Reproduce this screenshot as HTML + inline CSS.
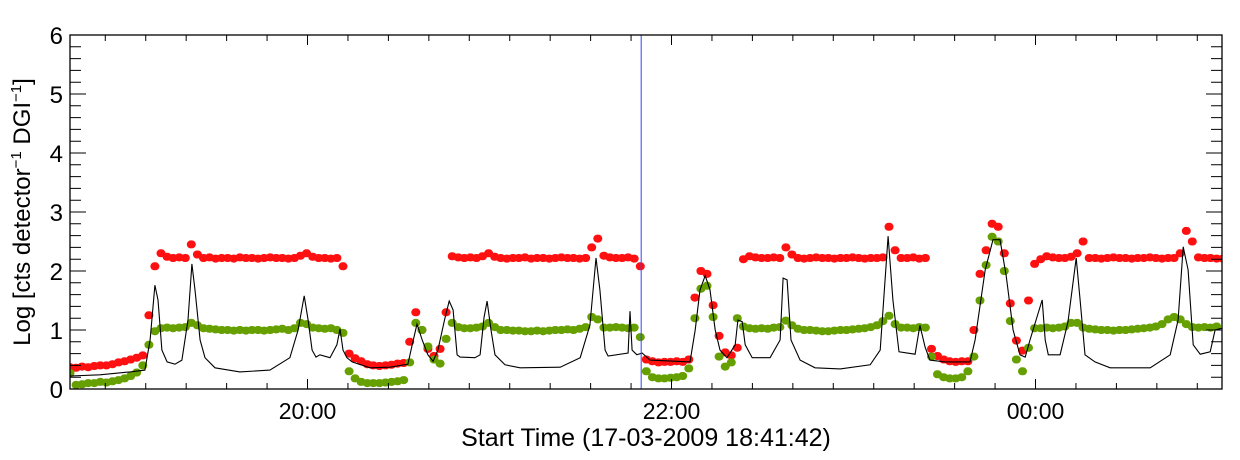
<!DOCTYPE html>
<html><head><meta charset="utf-8"><style>
html,body{margin:0;padding:0;background:#fff;}
svg{display:block;font-family:"Liberation Sans",sans-serif;}
</style></head><body>
<svg id="chart" width="1240" height="460" viewBox="0 0 1240 460" xmlns="http://www.w3.org/2000/svg">
<rect x="0" y="0" width="1240" height="460" fill="#fff"/>
<g id="plot"></g>
<g id="axes"></g>
<text x="30" y="212" font-size="24" text-anchor="middle" transform="rotate(-90 30 212)">Log [cts detector<tspan dy="-9" font-size="15">−1</tspan><tspan dy="9"> DGI</tspan><tspan dy="-9" font-size="15">−1</tspan><tspan dy="9">]</tspan></text>
<text x="646" y="446" font-size="25" text-anchor="middle">Start Time (17-03-2009 18:41:42)</text>
</svg>
<script>
// time in minutes since 18:41:42, values in log units
const dotStep = 2; // minutes between dot samples
const redValues = [0.37,0.36,0.38,0.37,0.39,0.40,0.40,0.42,0.45,0.47,0.50,0.53,0.57,1.25,2.08,2.3,2.24,2.22,2.23,2.22,2.45,2.28,
2.22,2.23,2.21,2.22,2.22,2.21,2.23,2.22,2.22,2.21,2.22,2.23,2.22,2.22,2.21,2.22,2.26,2.3,2.24,2.22,2.22,2.21,2.22,2.08,
0.6,0.52,0.47,0.42,0.4,0.39,0.4,0.41,0.43,0.44,0.8,1.3,1.0,0.68,0.56,0.68,1.3,2.25,2.23,2.22,2.23,2.22,2.25,2.3,2.24,
2.22,2.21,2.22,2.22,2.23,2.21,2.22,2.22,2.21,2.22,2.23,2.22,2.22,2.21,2.22,2.4,2.55,2.26,2.23,2.22,2.22,2.23,2.21,2.08,
0.5,0.47,0.45,0.46,0.46,0.47,0.46,0.5,1.55,2.0,1.95,1.42,0.9,0.62,0.57,0.7,2.2,2.25,2.23,2.22,2.22,2.23,2.22,2.4,2.28,
2.22,2.21,2.22,2.23,2.22,2.22,2.21,2.22,2.22,2.23,2.22,2.21,2.22,2.22,2.23,2.75,2.35,2.22,2.22,2.23,2.21,2.22,
0.68,0.56,0.5,0.47,0.46,0.47,0.47,1.0,1.95,2.35,2.8,2.75,2.3,1.45,0.82,0.65,1.5,2.12,2.2,2.25,2.23,2.22,2.22,2.24,2.3,2.5,
2.22,2.22,2.21,2.22,2.23,2.22,2.22,2.21,2.22,2.22,2.23,2.22,2.21,2.22,2.22,2.3,2.68,2.5,2.23,2.22,2.22,2.21,2.21];
const greenValues = [0.27,0.07,0.08,0.1,0.1,0.12,0.11,0.13,0.15,0.18,0.22,0.28,0.4,0.75,0.98,1.03,1.04,1.03,1.04,1.05,1.12,1.08,
1.03,1.02,1.01,1.0,1.0,0.99,1.0,0.99,1.0,1.0,0.99,1.0,1.01,1.02,1.0,1.03,1.12,1.1,1.04,1.03,1.02,1.03,1.0,0.95,
0.3,0.18,0.12,0.1,0.1,0.1,0.11,0.12,0.13,0.15,0.45,1.12,1.0,0.72,0.5,0.43,0.85,1.12,1.05,1.03,1.03,1.04,1.06,1.12,1.05,
1.0,1.0,0.99,0.99,0.98,0.98,0.99,0.98,0.99,1.0,1.0,1.01,1.0,1.02,1.05,1.22,1.18,1.04,1.04,1.05,1.04,1.03,1.04,0.88,
0.3,0.2,0.18,0.18,0.19,0.2,0.22,0.35,1.2,1.7,1.75,1.22,0.55,0.38,0.45,1.2,1.06,1.03,1.02,1.03,1.02,1.04,1.05,1.16,1.08,
1.02,1.0,1.0,0.99,0.98,0.98,0.99,1.0,1.0,1.01,1.02,1.03,1.05,1.08,1.15,1.24,1.1,1.04,1.04,1.03,1.05,1.04,
0.55,0.25,0.2,0.18,0.18,0.2,0.3,0.55,1.5,2.1,2.58,2.5,2.0,1.15,0.5,0.3,0.7,1.03,1.03,1.04,1.03,1.04,1.06,1.12,1.12,
1.04,1.02,1.01,1.0,1.0,0.99,1.0,1.0,1.01,1.02,1.03,1.04,1.06,1.1,1.18,1.22,1.18,1.1,1.05,1.04,1.05,1.04,1.06];
const blackTimes = [0,9.9,19.8,24.7,26.4,28.0,29.0,30.3,32.0,34.6,36.9,38.9,40.2,41.2,42.9,44.5,47.8,56.0,65.9,72.5,75.2,77.2,78.5,79.8,81.1,82.4,85.7,88.0,89.0,90.0,91.3,93.0,98.9,105.5,111.4,112.8,114.4,116.1,118.0,119.7,121.3,123.6,125.0,126.3,127.6,128.6,133.5,135.2,136.5,137.5,138.8,140.1,143.4,148.4,161.6,168.2,171.4,173.4,174.7,176.4,177.4,184.0,184.6,185.3,186.9,188.6,191.2,204.4,206.1,207.7,209.4,211.0,212.7,214.3,216.6,219.3,220.2,221.6,222.6,224.9,230.8,234.1,235.1,236.4,237.7,240.7,245.6,253.9,263.8,267.1,269.7,271.3,273.3,278.6,280.2,281.9,283.5,288.5,296.7,298.4,301.7,304.3,306.6,308.6,310.9,313.2,314.9,316.5,320.5,321.5,322.5,326.4,329.0,331.7,333.0,334.6,337.9,342.9,356.1,362.7,365.3,367.0,368.6,370.3,372.6,375.9,377.5,379.8];
const blackValues = [0.22,0.24,0.29,0.32,0.83,1.76,1.51,0.66,0.46,0.42,0.49,1.17,2.12,1.68,0.83,0.53,0.36,0.29,0.32,0.53,1.0,1.58,1.17,0.66,0.54,0.58,0.53,0.75,1.02,0.66,0.53,0.46,0.36,0.37,0.42,0.75,1.1,0.83,0.58,0.47,0.66,1.2,1.49,1.34,0.58,0.54,0.53,0.58,1.22,1.49,1.0,0.58,0.41,0.36,0.37,0.53,1.08,2.22,1.68,0.66,0.56,0.61,1.32,0.66,0.58,0.61,0.49,0.46,1.0,1.68,1.92,1.68,1.0,0.66,0.53,0.75,1.17,1.14,0.75,0.53,0.53,0.83,1.88,1.85,0.83,0.49,0.36,0.34,0.41,0.66,2.59,1.51,0.63,0.59,1.08,0.71,0.49,0.46,0.46,0.83,2.02,2.53,2.53,1.93,1.0,0.58,0.54,0.83,1.51,0.83,0.58,0.58,1.14,2.22,1.51,0.58,0.46,0.36,0.36,0.58,1.17,2.41,2.02,0.75,0.59,0.63,1.0,1.03];
const markerTime = 188.3;
const yTicks = [0,1,2,3,4,5,6];
const xTickLabels = ["20:00","22:00","00:00"];
const xTickTimes = [78.3,198.3,318.3];

const NS = "http://www.w3.org/2000/svg";
const L = 70, R = 1222, T = 35, B = 389;
const tMax = (R - L) / (182 / 60);
function xs(t){ return L + t * (R - L) / tMax; }
function ys(v){ return B - v * (B - T) / 6; }
function mk(tag, attrs, parent){ const e = document.createElementNS(NS, tag); for (const k in attrs) e.setAttribute(k, attrs[k]); parent.appendChild(e); return e; }

const plot = document.getElementById('plot');
const clip = mk('clipPath', {id:'clip'}, plot);
mk('rect', {x:L, y:T, width:R-L, height:B-T}, clip);
const g = mk('g', {'clip-path':'url(#clip)'}, plot);

const red = mk('g', {fill:'#ff1010'}, g);


redValues.forEach((v, i) => {
  const c = mk('rect', {x:(xs(i*dotStep)-4.5).toFixed(1), y:(ys(v)-4).toFixed(1), width:9, height:8, rx:4, ry:4}, red);
  
  
});
const green = mk('g', {fill:'#66a000'}, g);


greenValues.forEach((v, i) => {
  const c = mk('rect', {x:(xs(i*dotStep)-4.5).toFixed(1), y:(ys(v)-4).toFixed(1), width:9, height:8, rx:4, ry:4}, green);
  
  
});
const pts = blackTimes.map((t, i) => xs(t).toFixed(1) + ',' + ys(blackValues[i]).toFixed(1)).join(' ');
const line = mk('polyline', {points:pts, fill:'none', stroke:'#000', 'stroke-width':1.1}, g);


const mline = mk('line', {x1:xs(markerTime), x2:xs(markerTime), y1:T, y2:B, stroke:'#3344ff', 'stroke-width':1}, g);



const ax = document.getElementById('axes');
const frame = mk('rect', {x:L, y:T, width:R-L, height:B-T, fill:'none', stroke:'#000', 'stroke-width':1.3}, ax);


let d = '';
for (let k = 0; k <= 30; k++) {
  const y = ys(k * 0.2);
  const len = (k % 5 === 0) ? 16 : 11;
  d += `M${L},${y}h${len}M${R},${y}h${-len}`;
}
const step = 120 / 9;
for (let t = xTickTimes[0] - 6 * step; t <= tMax + 0.01; t += step) {
  if (t < 0) continue;
  const x = xs(t);
  const major = xTickTimes.some(m => Math.abs(m - t) < 0.5);
  const len = major ? 10 : 6;
  d += `M${x},${B}v${-len}M${x},${T}v${len}`;
}
const ticks = mk('path', {d:d, stroke:'#000', 'stroke-width':1, fill:'none'}, ax);


yTicks.forEach(v => {
  const tx = mk('text', {x:63, y:ys(v)+9, 'font-size':24, 'text-anchor':'end'}, ax);
  tx.textContent = v;
  
  
});
xTickLabels.forEach((s, i) => {
  const tx = mk('text', {x:xs(xTickTimes[i]), y:419, 'font-size':23, 'text-anchor':'middle'}, ax);
  tx.textContent = s;
  
  
});
</script>
</body></html>
